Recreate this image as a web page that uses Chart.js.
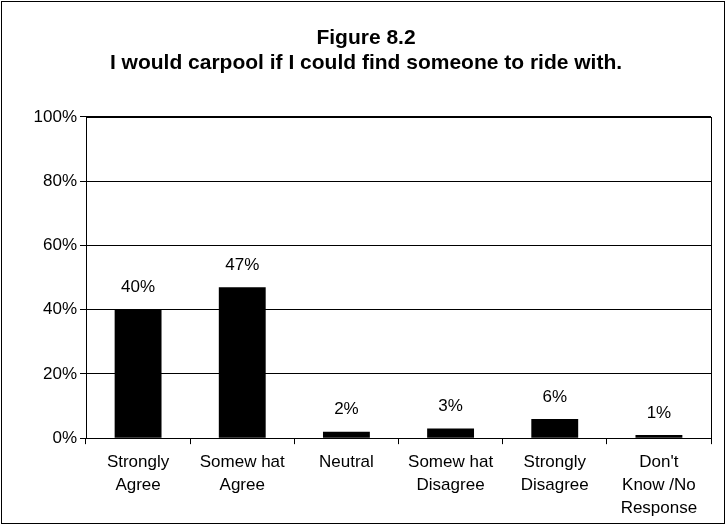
<!DOCTYPE html>
<html>
<head>
<meta charset="utf-8">
<script src="https://cdn.jsdelivr.net/npm/chart.js@4/dist/chart.umd.min.js"></script>
<style>
    body { margin: 0; background: #fff; }
    #wrap { width: 727px; height: 527px; }
</style>
</head>
<body>
<div id="wrap"><canvas id="carpoolChart" width="727" height="527"></canvas></div>
<script>
// Survey answers for Figure 8.2
const answers = [
    ['Strongly', 'Agree'],
    ['Somew hat', 'Agree'],
    ['Neutral'],
    ['Somew hat', 'Disagree'],
    ['Strongly', 'Disagree'],
    ["Don't", 'Know /No', 'Response']
];
const shares = [40, 47, 2, 3, 6, 1];
const yTicks = [0, 20, 40, 60, 80, 100];

const titleLines = ['Figure 8.2', 'I would carpool if I could find someone to ride with.'];
const font = 'Liberation Sans, Arial, sans-serif';

// white page, outer frame and the box around the plot
const framePlugin = {
    id: 'frame',
    beforeDraw(chart) {
        const c = chart.ctx;
        c.save();
        c.fillStyle = '#fff';
        c.fillRect(0, 0, chart.width, chart.height);
        c.strokeStyle = '#000';
        c.lineWidth = 1;
        c.strokeRect(1.5, 1.5, chart.width - 4, chart.height - 5);
        c.restore();
    },
    afterDraw(chart) {
        const a = chart.chartArea;
        const c = chart.ctx;
        c.save();
        c.strokeStyle = '#000';
        c.lineWidth = 1;
        c.strokeRect(Math.round(a.left) + 0.5, Math.round(a.top) + 0.5,
            Math.round(a.right - a.left), Math.round(a.bottom - a.top));
        c.restore();
    }
};

// percentage above every bar
const valueLabels = {
    id: 'valueLabels',
    afterDatasetsDraw(chart) {
        const c = chart.ctx;
        const meta = chart.getDatasetMeta(0);
        c.save();
        c.fillStyle = '#000';
        c.font = '17px ' + font;
        c.textAlign = 'center';
        c.textBaseline = 'middle';
        meta.data.forEach((bar, i) => {
            c.fillText(shares[i] + '%', bar.x, bar.y - 22);
        });
        c.restore();
    }
};

new Chart(document.getElementById('carpoolChart'), {
    type: 'bar',
    data: {
        labels: answers,
        datasets: [{
            data: shares,
            backgroundColor: '#000',
            borderWidth: 0,
            categoryPercentage: 1,
            barPercentage: 0.45
        }]
    },
    options: {
        responsive: false,
        animation: false,
        layout: { padding: { left: 5, right: 0, top: 0, bottom: 0 } },
        plugins: {
            legend: { display: false },
            tooltip: { enabled: false },
            title: {
                display: true,
                text: titleLines,
                color: '#000',
                font: { family: font, size: 21, weight: 'bold', lineHeight: 1.19 },
                padding: { top: 26, bottom: 41 }
            }
        },
        scales: {
            x: {
                grid: { drawOnChartArea: false, color: '#000', tickLength: 6, offset: true },
                border: { color: '#000' },
                ticks: {
                    color: '#000',
                    maxRotation: 0,
                    autoSkip: false,
                    padding: 7,
                    font: { family: font, size: 17, lineHeight: 1.35 }
                }
            },
            y: {
                min: 0,
                max: 100,
                afterBuildTicks(scale) {
                    scale.ticks = yTicks.map(v => ({ value: v }));
                },
                afterFit(scale) { scale.width = 81; },
                grid: { color: '#000', tickLength: 6 },
                border: { color: '#000' },
                ticks: {
                    color: '#000',
                    padding: 3,
                    font: { family: font, size: 17 },
                    callback: v => v + '%'
                }
            },
            yRight: {
                position: 'right',
                min: 0,
                max: 100,
                grid: { drawOnChartArea: false, drawTicks: false },
                border: { display: false },
                ticks: { display: false },
                afterFit(scale) { scale.width = 16; }
            }
        }
    },
    plugins: [framePlugin, valueLabels]
});
</script>
</body>
</html>
